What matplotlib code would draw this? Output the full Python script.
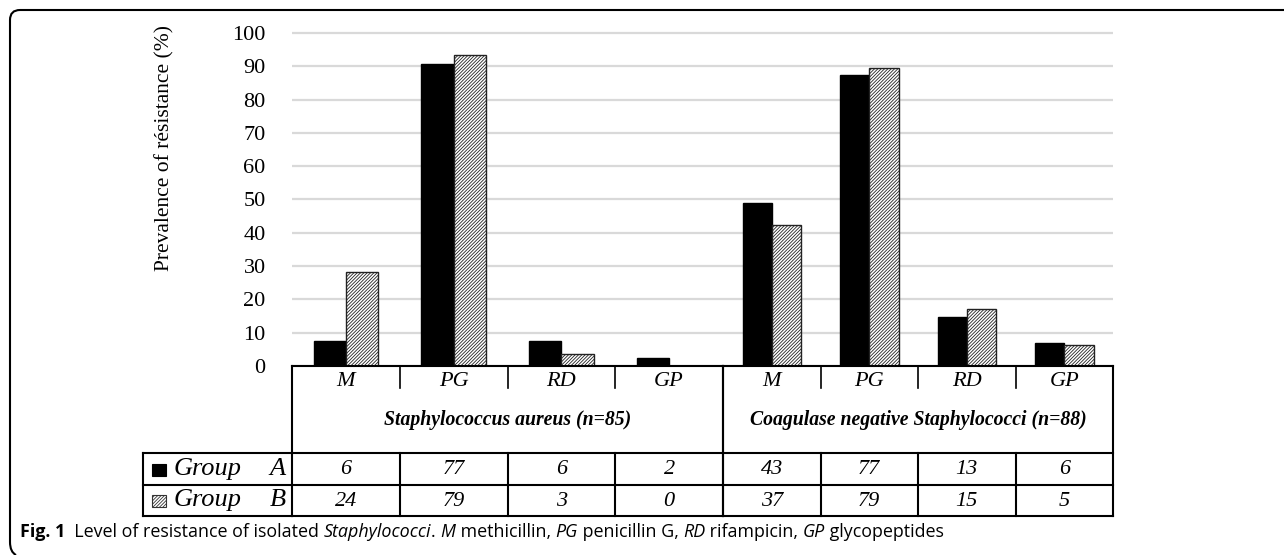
import matplotlib
matplotlib.use("Agg")
from matplotlib import pyplot as plt
from matplotlib.transforms import Affine2D, blended_transform_factory
from matplotlib.lines import Line2D
from matplotlib.path import Path
from matplotlib.patches import PathPatch, Rectangle

# data
drugs = ["M", "PG", "RD", "GP"]
groups = ["Staphylococcus aureus (n=85)", "Coagulase negative Staphylococci (n=88)"]
pct_a = [[7.5, 90.6, 7.5, 2.3], [48.9, 87.5, 14.8, 7.0]]
pct_b = [[28.2, 93.5, 3.5, 0.0], [42.2, 89.5, 17.0, 6.3]]
count_a = [[6, 77, 6, 2], [43, 77, 13, 6]]
count_b = [[24, 79, 3, 0], [37, 79, 15, 5]]
yticks = [0, 10, 20, 30, 40, 50, 60, 70, 80, 90, 100]

W, H = 1284, 555
plt.rcParams['hatch.linewidth'] = 0.6
serif = "Liberation Serif"

fig = plt.figure(figsize=(W / 100, H / 100), dpi=100)
# pixel transform, y measured from the top
px = Affine2D().scale(1.0 / W, -1.0 / H).translate(0, 1) + fig.transFigure

def box(x0, x1, y0, y1):
    return [x0 / W, 1 - y1 / H, (x1 - x0) / W, (y1 - y0) / H]

y_top, y_zero = 31, 366
row_hdr, row_a, row_b = 453, 485, 516
axes = [fig.add_axes(box(292, 723, y_top, y_zero)),
        fig.add_axes(box(723, 1113, y_top, y_zero))]

w = 0.3
for g, ax in enumerate(axes):
    x = list(range(len(drugs)))
    ax.bar([i - w / 2 for i in x], pct_a[g], w, color="black", edgecolor="black", lw=1, zorder=3)
    ax.bar([i + w / 2 for i in x], pct_b[g], w, color="white", edgecolor="#222222", lw=1,
           hatch="//////////", zorder=3)
    ax.set_xlim(-0.5, len(drugs) - 0.5)
    ax.set_ylim(0, 100.6)
    ax.set_yticks(yticks)
    ax.yaxis.grid(True, color="#d9d9d9", lw=1.6, zorder=0)
    ax.set_xticks([])
    for s in ax.spines.values():
        s.set_visible(False)
    ax.tick_params(axis="y", length=0, pad=19, labelsize=16)
    for t in ax.get_yticklabels():
        t.set_fontfamily(serif)
    if g == 1:
        ax.tick_params(axis="y", labelleft=False)

    tr = blended_transform_factory(ax.transData, px)
    n = len(drugs)
    # header row
    fig.add_artist(Line2D([-0.5, n - 0.5], [y_zero, y_zero], transform=tr, color="black", lw=1.5))
    for i in range(1, n):
        fig.add_artist(Line2D([i - 0.5, i - 0.5], [y_zero, 388], transform=tr, color="black", lw=1.2))
    for i, d in enumerate(drugs):
        fig.text(i, 381, d, transform=tr, ha="center", va="center", fontsize=16,
                 family=serif, style="italic")
    fig.text((n - 1) / 2, 420, groups[g], transform=tr, ha="center", va="center",
             fontsize=14.2, family=serif, style="italic", weight="bold")
    # data rows
    for yy in (row_hdr, row_a, row_b):
        fig.add_artist(Line2D([-0.5, n - 0.5], [yy, yy], transform=tr, color="black", lw=1.5))
    for i in range(n + 1):
        top = y_zero if i in (0, n) else row_hdr
        fig.add_artist(Line2D([i - 0.5, i - 0.5], [top, row_b], transform=tr, color="black", lw=1.5))
    for i in range(n):
        fig.text(i, 470, str(count_a[g][i]), transform=tr, ha="center", va="center",
                 fontsize=16, family=serif, style="italic")
        fig.text(i, 501, str(count_b[g][i]), transform=tr, ha="center", va="center",
                 fontsize=16, family=serif, style="italic")

axes[0].set_ylabel("Prevalence of résistance (%)", family=serif, fontsize=15.5)
axes[0].yaxis.set_label_coords(-0.272, 0.65)

# legend column of the table
for yy in (row_hdr, row_a, row_b):
    fig.add_artist(Line2D([143, 292], [yy, yy], transform=px, color="black", lw=1.5))
fig.add_artist(Line2D([143, 143], [row_hdr, row_b], transform=px, color="black", lw=1.5))
fig.add_artist(Rectangle((152, 476), 14, -12, transform=px, facecolor="black", edgecolor="black", lw=0.8))
fig.add_artist(Rectangle((152, 507), 14, -12, transform=px, facecolor="white", edgecolor="#333333",
                         lw=0.8, hatch="//////////"))
for yy, lab in ((469, "A"), (500, "B")):
    fig.text(174, yy, "Group", transform=px, ha="left", va="center", fontsize=19,
             family=serif, style="italic")
    fig.text(286, yy, lab, transform=px, ha="right", va="center", fontsize=19,
             family=serif, style="italic")

# frame of the figure panel
verts = [(W, 10), (20, 10), (10, 10), (10, 20), (10, 542), (10, 552), (16, 555)]
codes = [Path.MOVETO, Path.LINETO, Path.CURVE3, Path.CURVE3, Path.LINETO, Path.CURVE3, Path.CURVE3]
fig.add_artist(PathPatch(Path(verts, codes), transform=px, fill=False, edgecolor="black", lw=1.5))

# caption
caption = [("Fig. 1", "normal", "bold"), ("  Level of resistance of isolated ", "normal", "normal"),
           ("Staphylococci", "italic", "normal"), (". ", "normal", "normal"),
           ("M", "italic", "normal"), (" methicillin, ", "normal", "normal"),
           ("PG", "italic", "normal"), (" penicillin G, ", "normal", "normal"),
           ("RD", "italic", "normal"), (" rifampicin, ", "normal", "normal"),
           ("GP", "italic", "normal"), (" glycopeptides", "normal", "normal")]
renderer = fig.canvas.get_renderer()
xpos = 20
for txt, st, wt in caption:
    t = fig.text(xpos, 532, txt, transform=px, ha="left", va="center", fontsize=12.9,
                 family="Open Sans", style=st, weight=wt)
    bb = t.get_window_extent(renderer)
    xpos += bb.width

fig.savefig("out.png", dpi=100)
